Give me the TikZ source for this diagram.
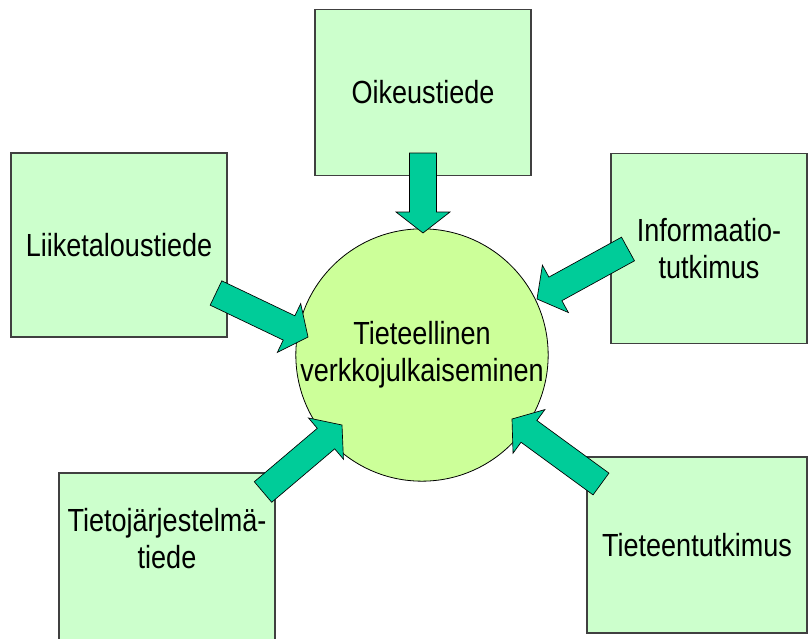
\documentclass[tikz,border=0pt]{standalone}
\usepackage{fontspec}
\setmainfont{Liberation Sans}[FakeStretch=0.845]
\usetikzlibrary{calc}

\definecolor{boxgreen}{HTML}{CCFFCC}
\definecolor{hubgreen}{HTML}{CCFF99}
\definecolor{arrowgreen}{HTML}{00CC99}
\definecolor{boxline}{HTML}{404040}

% block arrow from tail centre #1 to tip #2
\newcommand{\blockarrow}[2]{%
  \coordinate (hb) at ($(#2)!15.75pt!(#1)$);
  \draw [fatarrow] ($(#1)!10.1pt!90:(#2)$) -- ($(hb)!10.1pt!90:(#2)$)
    -- ($(hb)!20.25pt!90:(#2)$) -- (#2) -- ($(hb)!20.25pt!-90:(#2)$)
    -- ($(hb)!10.1pt!-90:(#2)$) -- ($(#1)!10.1pt!-90:(#2)$) -- cycle;
}

\begin{document}
\begin{tikzpicture}[x=0.75pt,y=-0.75pt]
	\tikzset{
		box/.style={draw=boxline, line width=0.8pt, fill=boxgreen, inner sep=0pt, align=center,
			font=\fontsize{24}{27.75}\selectfont},
		hub/.style={draw=black, line width=0.6pt, fill=hubgreen, circle, minimum size=187pt,
			inner sep=0pt, align=center, font=\fontsize{24}{27.75}\selectfont},
		label/.style={inner sep=0pt, align=center, font=\fontsize{24}{27.75}\selectfont},
		fatarrow/.style={draw=black, line width=0.5pt, fill=arrowgreen, line join=miter}
	}
	\useasboundingbox (0,0) rectangle (808,639);
	% surrounding fields
	\node [box, minimum width=162pt, minimum height=125pt] (oik) at (423,92.5) {Oikeustiede};
	\node [box, minimum width=162pt, minimum height=138pt] (lii) at (119,245) {Liiketaloustiede};
	\node [box, minimum width=147pt, minimum height=143pt] (inf) at (709,248.5) {Informaatio-\\tutkimus};
	\node [box, minimum width=162pt, minimum height=138pt] (tjt) at (167,565) {};
	\node [label] (tjtlabel) at (167,539) {Tietojärjestelmä-\\tiede};
	\node [box, minimum width=165pt, minimum height=132pt] (tt) at (697,545) {Tieteentutkimus};
	% centre
	\node [hub] (hub) at (422,355) {Tieteellinen\\verkkojulkaiseminen};
	% arrows
	\coordinate (oiktail) at (423,153);
	\coordinate (oiktip) at (423,233);
	\coordinate (liitail) at (216,293);
	\coordinate (liitip) at (308,337);
	\coordinate (inftail) at (628,249);
	\coordinate (inftip) at (537,299);
	\coordinate (tjttail) at (263,492);
	\coordinate (tjttip) at (342,425);
	\coordinate (tttail) at (601,484);
	\coordinate (tttip) at (512,419);
	\blockarrow{oiktail}{oiktip}
	\blockarrow{liitail}{liitip}
	\blockarrow{inftail}{inftip}
	\blockarrow{tjttail}{tjttip}
	\blockarrow{tttail}{tttip}
\end{tikzpicture}
\end{document}
